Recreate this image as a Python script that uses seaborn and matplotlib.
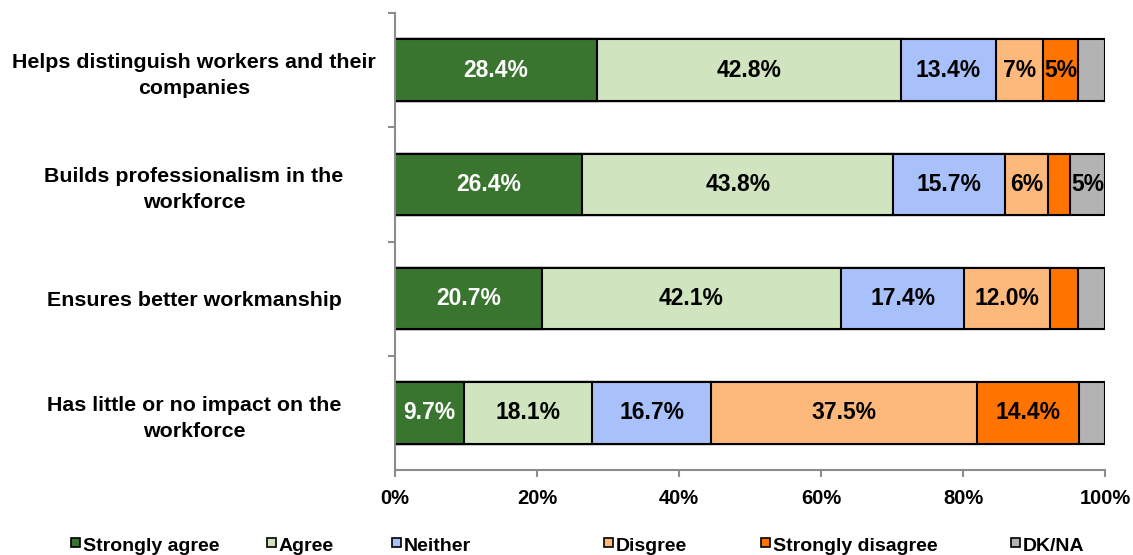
import numpy as np
import pandas as pd
import matplotlib
matplotlib.use("Agg")
import matplotlib.pyplot as plt
from matplotlib.patches import Rectangle
from matplotlib.ticker import FixedLocator
import seaborn as sns

categories = [
    "Helps distinguish workers and their\ncompanies",
    "Builds professionalism in the\nworkforce",
    "Ensures better workmanship",
    "Has little or no impact on the\nworkforce",
]
responses = ["Strongly agree", "Agree", "Neither", "Disgree", "Strongly disagree", "DK/NA"]

strongly_agree = [28.4, 26.4, 20.7, 9.7]
agree = [42.8, 43.8, 42.1, 18.1]
neither = [13.4, 15.7, 17.4, 16.7]
disagree = [6.7, 6.1, 12.0, 37.5]
strongly_disagree = [4.9, 3.1, 4.0, 14.4]
dk_na = [3.8, 4.9, 3.8, 3.6]

# labels as printed on the bars ("" = no label)
bar_labels = [
    ["28.4%", "26.4%", "20.7%", "9.7%"],
    ["42.8%", "43.8%", "42.1%", "18.1%"],
    ["13.4%", "15.7%", "17.4%", "16.7%"],
    ["7%", "6%", "12.0%", "37.5%"],
    ["5%", "", "", "14.4%"],
    ["", "5%", "", ""],
]

colors = ["#3a7530", "#d0e4bf", "#a8c1fa", "#fdb87c", "#ff7400", "#b3b3b3"]
text_colors = ["white", "black", "black", "black", "black", "black"]

series = [strongly_agree, agree, neither, disagree, strongly_disagree, dk_na]
cum = np.cumsum(np.array(series), axis=0)

sns.set_theme(style="white")
plt.rcParams["font.family"] = ["Liberation Sans", "DejaVu Sans"]
plt.rcParams["font.weight"] = "bold"
plt.rcParams["text.color"] = "black"

W, H = 1133, 555
fig = plt.figure(figsize=(W / 100, H / 100), dpi=100)
ax = fig.add_axes([395 / W, 1 - 470 / H, 710 / W, 457 / H])

# stacked bars: draw cumulative totals from the outermost inwards
for i in range(len(series) - 1, -1, -1):
    df = pd.DataFrame({"cat": categories, "value": cum[i]})
    sns.barplot(data=df, x="value", y="cat", orient="h", color=colors[i],
                saturation=1, edgecolor="black", linewidth=1.5, width=0.54, ax=ax)

for i in range(len(series)):
    starts = cum[i] - np.array(series[i])
    for j in range(len(categories)):
        lab = bar_labels[i][j]
        if lab:
            ax.text(starts[j] + series[i][j] / 2, j, lab, ha="center", va="center",
                    color=text_colors[i], fontsize=16.5, fontweight="bold")

ax.set_xlim(0, 100)
ax.set_ylim(3.5, -0.5)
ax.set_xlabel("")
ax.set_ylabel("")
ax.set_xticks(range(0, 101, 20))
ax.set_xticklabels([f"{v}%" for v in range(0, 101, 20)], fontsize=14.5, fontweight="bold",
                   color="black")
ax.set_yticks(range(len(categories)))
ax.set_yticklabels(categories, fontsize=15.4, fontweight="bold", ha="center", color="black",
                   linespacing=1.45)
for t in ax.get_yticklabels():
    t.set_x(-201 / 710)
    t.set_multialignment("center")
ax.tick_params(axis="y", which="major", length=0, pad=0)
ax.yaxis.set_minor_locator(FixedLocator([-0.5, 0.5, 1.5, 2.5]))
ax.tick_params(axis="y", which="minor", length=5, width=1.5, color="#8c8c8c", direction="out", left=True)
ax.tick_params(axis="x", which="major", length=5, width=1.5, color="#8c8c8c", direction="out",
               bottom=True, pad=9)

sns.despine(ax=ax, top=True, right=True)
for side in ["left", "bottom"]:
    ax.spines[side].set_color("#8c8c8c")
    ax.spines[side].set_linewidth(1.5)

# legend row, drawn by hand so each entry sits where it does in the original
legend_x = [71, 267, 392, 604, 761, 1011]
for name, c, x in zip(responses, colors, legend_x):
    fig.patches.append(Rectangle((x / W, 1 - 547 / H), 9 / W, 9 / H, transform=fig.transFigure,
                                 facecolor=c, edgecolor="black", linewidth=1.2))
    fig.text((x + 12) / W, 1 - 551 / H, name, ha="left", va="baseline",
             fontsize=14, fontweight="bold", color="black")

fig.savefig("out.png", dpi=100)
